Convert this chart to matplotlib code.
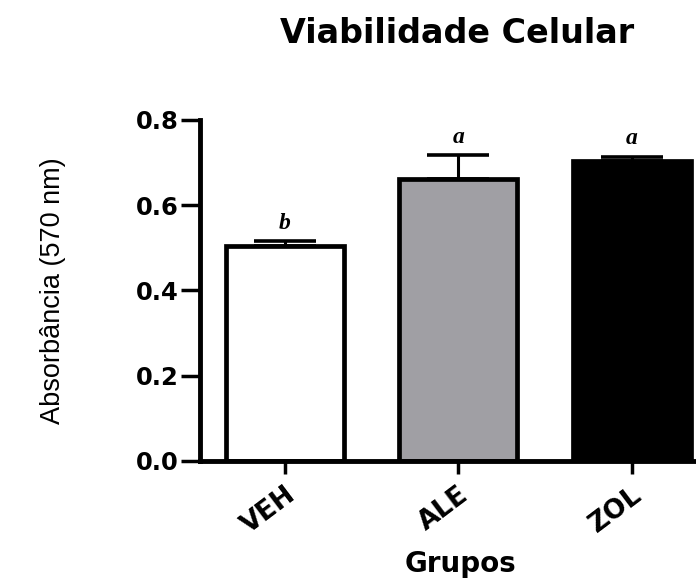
import matplotlib.pyplot as plt

grupos = ['VEH', 'ALE', 'ZOL']
absorbancia = [0.505, 0.662, 0.704]
erro = [0.010, 0.055, 0.010]
letras = ['b', 'a', 'a']
cores = ['white', '#a09fa4', 'black']

fig = plt.figure(figsize=(6.96, 5.79), dpi=100)
ax = fig.add_axes([0.287, 0.204, 0.713, 0.589])

x = range(len(grupos))
ax.bar(x, absorbancia, width=0.68, color=cores, edgecolor='black', linewidth=3.4, zorder=2)
ax.errorbar(x, absorbancia, yerr=[[0] * len(erro), erro], fmt='none', ecolor='black',
            elinewidth=2.2, capsize=22, capthick=2.6, zorder=1)

for xi, v, e, l in zip(x, absorbancia, erro, letras):
    ax.text(xi, v + e + 0.018, l, ha='center', va='bottom', fontsize=17,
            family='Liberation Serif', style='italic', fontweight='bold')

ax.set_xlim(-0.49, 2.37)
ax.set_ylim(0, 0.8)
ax.set_yticks([0.0, 0.2, 0.4, 0.6, 0.8])
ax.set_yticklabels(['0.0', '0.2', '0.4', '0.6', '0.8'], fontsize=17.5, fontweight='bold',
                   family='DejaVu Sans')
ax.set_xticks(list(x))
ax.set_xticklabels(grupos, rotation=37, ha='right', rotation_mode='anchor', fontsize=19,
                   fontweight='bold', family='DejaVu Sans')

for s in ['top', 'right']:
    ax.spines[s].set_visible(False)
for s in ['left', 'bottom']:
    ax.spines[s].set_linewidth(3.5)
ax.tick_params(axis='y', length=14, width=2.5, pad=1)
ax.tick_params(axis='x', length=9, width=2.5, pad=6)

ax.set_ylabel('Absorbância (570 nm)', fontsize=19.5, family='Liberation Sans', va='center')
ax.yaxis.set_label_coords(-0.296, 0.5)
ax.set_xlabel('Grupos', fontsize=20, fontweight='bold', family='DejaVu Sans', va='baseline')
ax.xaxis.set_label_coords(0.526, -0.326)
fig.text(0.657, 0.925, 'Viabilidade Celular', ha='center', va='baseline', fontsize=24,
         fontweight='bold', family='DejaVu Sans')

fig.savefig('out.png', dpi=100)
